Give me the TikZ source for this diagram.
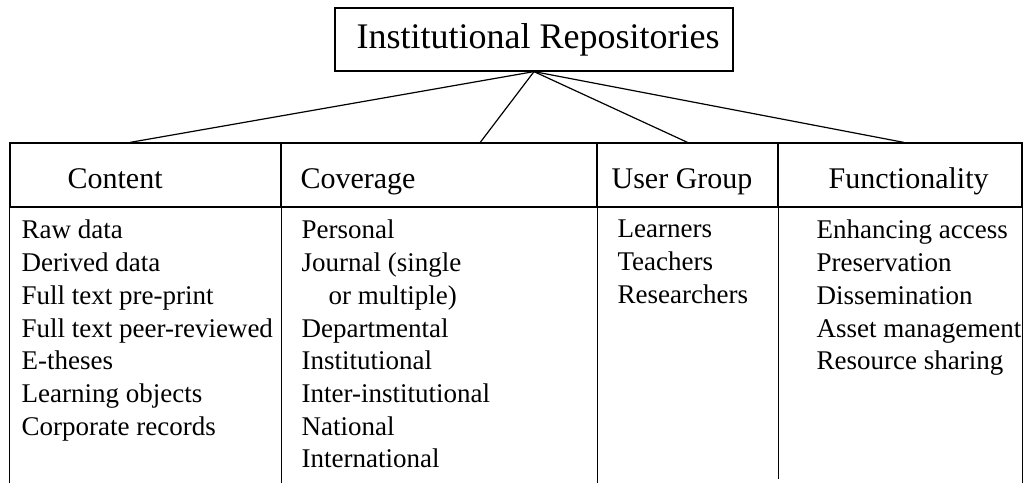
\documentclass[tikz,border=0pt]{standalone}
\usepackage{fontspec}
\setmainfont{Liberation Serif}
\usetikzlibrary{positioning, calc}

\begin{document}
\begin{tikzpicture}[
    x=1pt, y=-1pt,
    line width=1.2pt,
    titlebox/.style={rectangle, draw, minimum width=398pt, minimum height=63pt, inner sep=0pt, font=\fontsize{36}{40}\selectfont},
    headcell/.style={rectangle, draw, minimum height=64pt, inner sep=0pt},
    headlabel/.style={anchor=base west, inner sep=0pt, font=\fontsize{30}{34}\selectfont},
    itemlist/.style={anchor=north west, inner sep=0pt, align=left, font=\fontsize{27}{32.7}\selectfont},
    link/.style={line width=1.2pt}
]
\useasboundingbox (0,0) rectangle (1024,483);

% Title
\node[titlebox] (repo) at (534, 39.5) {\hspace{8pt}Institutional Repositories};

% Header cells
\node[headcell, minimum width=271pt] (content-head) at (145.5, 175) {};
\node[headcell, minimum width=316pt] (coverage-head) at (439, 175) {};
\node[headcell, minimum width=181pt] (user-head) at (687.5, 175) {};
\node[headcell, minimum width=244pt] (function-head) at (900, 175) {};

% Header labels
\node[headlabel] (content-label) at (67, 188) {Content};
\node[headlabel] (coverage-label) at (300, 188) {Coverage};
\node[headlabel] (user-label) at (611, 188) {User Group};
\node[headlabel] (function-label) at (828, 188) {Functionality};

% Column lines
\draw (content-head.south west) -- (content-head.south west |- 0, 483);
\draw (content-head.south east) -- (content-head.south east |- 0, 483);
\draw (coverage-head.south east) -- (coverage-head.south east |- 0, 483);
\draw (user-head.south east) -- (user-head.south east |- 0, 479);
\draw (function-head.south east) -- (function-head.south east |- 0, 483);

% Lists
\node[itemlist] (content-list) at (21, 219.6) {Raw data\\Derived data\\Full text pre-print\\Full text peer-reviewed\\E-theses\\Learning objects\\Corporate records};
\node[itemlist] (coverage-list) at (301, 219.6) {Personal\\Journal (single\\\hspace{27pt}or multiple)\\Departmental\\Institutional\\Inter-institutional\\National\\International};
\node[itemlist] (user-list) at (617, 219.6) {Learners\\Teachers\\Researchers};
\node[itemlist] (function-list) at (816, 219.6) {Enhancing access\\Preservation\\Dissemination\\Asset management\\Resource sharing};

% Links
\draw[link] (repo.south) -- ($(content-head.north west)!0.443!(content-head.north east)$);
\draw[link] (repo.south) -- ($(coverage-head.north west)!0.63!(coverage-head.north east)$);
\draw[link] (repo.south) -- (user-head.north);
\draw[link] (repo.south) -- ($(function-head.north west)!0.516!(function-head.north east)$);

\end{tikzpicture}
\end{document}
